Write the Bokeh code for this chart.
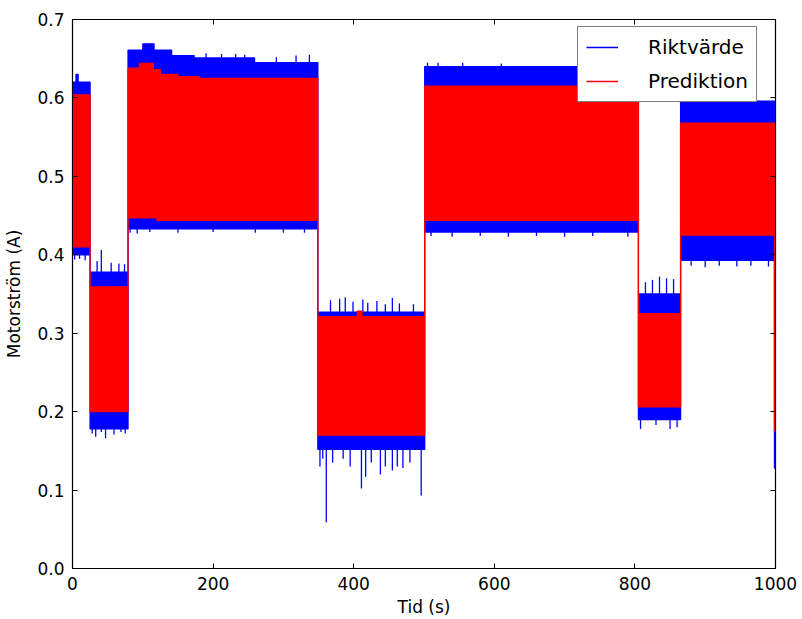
import numpy as np
from bokeh.plotting import figure
from bokeh.models import (LinearAxis, FixedTicker, PrintfTickFormatter,
                          Legend, LegendItem, Range1d)
from bokeh.embed import file_html
from bokeh.resources import INLINE

# ---------------- data ----------------
x_end = 999.5

# step envelopes: start x of each step and its level
blue_hi_x = [0, 5, 8, 25, 79, 100, 116, 141, 173, 259, 349, 501, 805, 865, 998.5]
blue_hi_y = [0.620, 0.630, 0.620, 0.378, 0.661, 0.669, 0.661, 0.654, 0.651, 0.645,
             0.327, 0.640, 0.350, 0.596, 0.350]
blue_lo_x = [0, 25, 79, 349, 501, 805, 865, 998.5]
blue_lo_y = [0.400, 0.178, 0.433, 0.152, 0.429, 0.190, 0.393, 0.128]

red_hi_x = [0, 25, 79, 95, 115, 125, 150, 180, 349, 405, 412, 501, 805, 865, 998.5]
red_hi_y = [0.604, 0.359, 0.638, 0.644, 0.636, 0.630, 0.627, 0.625,
            0.321, 0.328, 0.321, 0.615, 0.325, 0.568, 0.350]
red_lo_x = [0, 25, 79, 120, 349, 501, 805, 865, 998.5]
red_lo_y = [0.410, 0.200, 0.447, 0.444, 0.170, 0.444, 0.206, 0.425, 0.176]

# individual spikes of Riktvärde beyond the envelope
blue_up_x = [35, 41, 55, 66, 74, 190, 212, 232, 245, 290, 318, 337,
             367, 380, 388, 399, 413, 420, 433, 445, 455, 465, 485,
             505, 520, 555, 610, 815, 825, 835, 845, 855]
blue_up_y = [0.392, 0.406, 0.390, 0.389, 0.388, 0.657, 0.656, 0.656, 0.655, 0.652, 0.654, 0.655,
             0.342, 0.344, 0.346, 0.340, 0.343, 0.339, 0.341, 0.337, 0.345, 0.338, 0.337,
             0.645, 0.645, 0.645, 0.644, 0.365, 0.368, 0.372, 0.370, 0.369]
blue_dn_x = [3, 10, 18, 28, 33, 41, 47, 59, 69, 75,
             82, 92, 110, 150, 200, 260, 300, 330,
             352, 356, 361, 370, 385, 395, 411, 417, 425, 438, 445, 455, 462, 470, 480, 496,
             510, 540, 580, 620, 660, 700, 740, 790,
             808, 830, 850, 860, 880, 900, 920, 945, 965, 990]
blue_dn_y = [0.394, 0.395, 0.393, 0.172, 0.168, 0.174, 0.166, 0.171, 0.174, 0.172,
             0.428, 0.427, 0.429, 0.428, 0.429, 0.428, 0.428, 0.428,
             0.130, 0.140, 0.059, 0.135, 0.140, 0.130, 0.102, 0.117, 0.135, 0.120, 0.130,
             0.125, 0.130, 0.128, 0.135, 0.093,
             0.424, 0.423, 0.424, 0.423, 0.424, 0.423, 0.424, 0.423,
             0.178, 0.183, 0.178, 0.180, 0.386, 0.384, 0.386, 0.385, 0.386, 0.385]

x_ticks = [0, 200, 400, 600, 800, 1000]
y_ticks = [0.0, 0.1, 0.2, 0.3, 0.4, 0.5, 0.6, 0.7]
series_names = ["Riktvärde", "Prediktion"]


# ---------------- helpers ----------------
def steps(xs, ys, end):
    px, py = [], []
    for i in range(len(xs)):
        x1 = xs[i + 1] if i + 1 < len(xs) else end
        px += [xs[i], x1]
        py += [ys[i], ys[i]]
    return px, py


def band(hx, hy, lx, ly, end):
    ux, uy = steps(hx, hy, end)
    bx, by = steps(lx, ly, end)
    xs = ux + bx[::-1]
    ys = uy + by[::-1]
    return xs + xs[:1], ys + ys[:1]


def step_at(xs, ys, x):
    idx = np.searchsorted(np.array(xs), np.array(x), side="right") - 1
    return list(np.array(ys)[idx])


FONT = "DejaVu Sans"
BLUE = "#0000ff"
RED = "#ff0000"

p = figure(width=802, height=619, output_backend="svg", toolbar_location=None,
           x_range=Range1d(0, 1000), y_range=Range1d(0, 0.7),
           min_border_left=72, min_border_right=27, min_border_top=19, min_border_bottom=51)
p.background_fill_color = "white"
p.border_fill_color = "white"
p.outline_line_color = "black"
p.outline_line_width = 1.2
p.xgrid.visible = False
p.ygrid.visible = False

# Riktvärde (blue)
bx, by = band(blue_hi_x, blue_hi_y, blue_lo_x, blue_lo_y, x_end)
p.patch(bx, by, fill_color=BLUE, line_color=None)
blue_line = p.line(bx, by, line_color=BLUE, line_width=1.3)
p.segment(x0=blue_up_x, y0=step_at(red_hi_x, red_hi_y, blue_up_x), x1=blue_up_x, y1=blue_up_y,
          line_color=BLUE, line_width=1.3)
p.segment(x0=blue_dn_x, y0=step_at(red_lo_x, red_lo_y, blue_dn_x), x1=blue_dn_x, y1=blue_dn_y,
          line_color=BLUE, line_width=1.3)

# Prediktion (red)
rx, ry = band(red_hi_x, red_hi_y, red_lo_x, red_lo_y, x_end)
p.patch(rx, ry, fill_color=RED, line_color=None)
red_line = p.line(rx, ry, line_color=RED, line_width=1.3)

legend = Legend(items=[LegendItem(label=series_names[0], renderers=[blue_line]),
                       LegendItem(label=series_names[1], renderers=[red_line])],
                location=(505, 466))
legend.margin = 0
legend.padding = 8
legend.spacing = 10
legend.glyph_width = 32
legend.glyph_height = 22
legend.label_height = 22
legend.label_standoff = 30
legend.label_text_font = FONT
legend.label_text_font_size = "20px"
legend.label_text_color = "black"
legend.border_line_color = "black"
legend.border_line_width = 1
legend.background_fill_color = "white"
legend.background_fill_alpha = 1.0
p.add_layout(legend)

# axes
for ax in (p.xaxis[0], p.yaxis[0]):
    ax.major_tick_in = 5
    ax.major_tick_out = 0
    ax.minor_tick_in = 0
    ax.minor_tick_out = 0
    ax.major_label_standoff = 8
    ax.major_label_text_font = FONT
    ax.major_label_text_font_size = "17px"
    ax.major_label_text_color = "black"
    ax.axis_line_color = "black"
    ax.major_tick_line_color = "black"
    ax.axis_label_text_font = FONT
    ax.axis_label_text_font_size = "17px"
    ax.axis_label_text_font_style = "normal"
    ax.axis_label_text_color = "black"

p.xaxis[0].ticker = FixedTicker(ticks=x_ticks)
p.yaxis[0].ticker = FixedTicker(ticks=y_ticks)
p.yaxis[0].formatter = PrintfTickFormatter(format="%.1f")
p.xaxis[0].axis_label = "Tid (s)"
p.yaxis[0].axis_label = "Motorström (A)"
p.xaxis[0].axis_label_standoff = 4
p.yaxis[0].axis_label_standoff = 10

# mirrored ticks on top and right, labels switched off
top = LinearAxis(ticker=FixedTicker(ticks=x_ticks),
                 major_tick_in=5, major_tick_out=0, minor_tick_in=0, minor_tick_out=0,
                 major_tick_line_color="black", axis_line_color="black",
                 major_label_text_color=None, major_label_standoff=0,
                 major_label_text_font_size="1px")
right = LinearAxis(ticker=FixedTicker(ticks=y_ticks),
                   major_tick_in=5, major_tick_out=0, minor_tick_in=0, minor_tick_out=0,
                   major_tick_line_color="black", axis_line_color="black",
                   major_label_text_color=None, major_label_standoff=0,
                   major_label_text_font_size="1px")
p.add_layout(top, "above")
p.add_layout(right, "right")

open("out.html", "w").write(file_html(p, INLINE))
